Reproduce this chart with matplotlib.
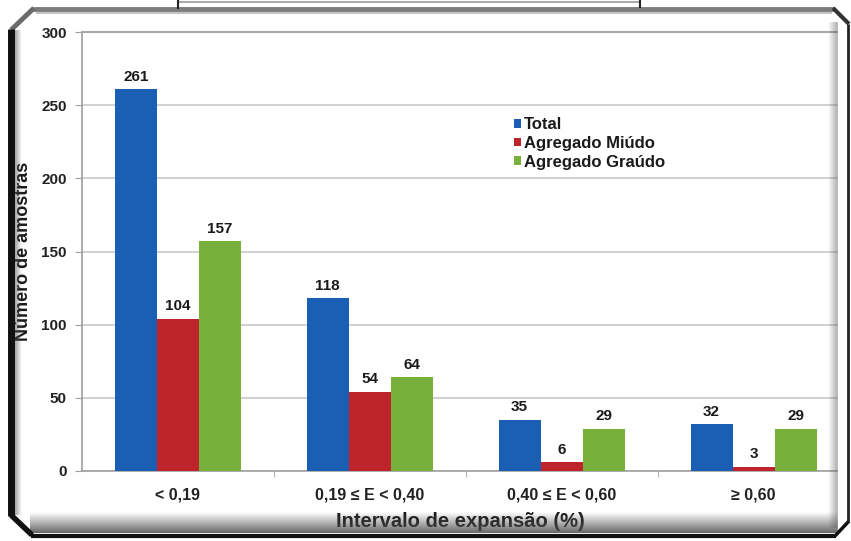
import numpy as np
import matplotlib
matplotlib.use("Agg")
import matplotlib.pyplot as plt
from matplotlib.lines import Line2D

plt.rcParams['font.family'] = ['Liberation Sans', 'DejaVu Sans']

categories = ["< 0,19", "0,19 ≤ E < 0,40", "0,40 ≤ E < 0,60", "≥ 0,60"]
series_names = ["Total", "Agregado Miúdo", "Agregado Graúdo"]
total = [261, 118, 35, 32]
miudo = [104, 54, 6, 3]
graudo = [157, 64, 29, 29]
colors = ["#1a5fb4", "#c0242b", "#78b03c"]
y_ticks = [0, 50, 100, 150, 200, 250, 300]

W, H = 851, 541
fig = plt.figure(figsize=(W / 100, H / 100), dpi=100)
fig.patch.set_facecolor("white")

# main axes in pixel layout
L, R, T, B = 82, 838, 32, 471
ax = fig.add_axes([L / W, 1 - B / H, (R - L) / W, (B - T) / H])
ax.set_facecolor("white")

x = np.arange(len(categories))
bw = 0.219
for i, (vals, name, c) in enumerate(zip([total, miudo, graudo], series_names, colors)):
    bars = ax.bar(x + (i - 1) * bw, vals, width=bw, color=c, label=name, zorder=3)
    ax.bar_label(bars, labels=[str(v) for v in vals], padding=4,
                 fontsize=11, fontweight='bold', color="#1a1a1a")

ax.set_xlim(-0.5, 3.44)
ax.set_ylim(0, 300)
ax.set_yticks(y_ticks)
ax.yaxis.grid(True, color="#c8c8c8", linewidth=1.2, zorder=0)
ax.set_axisbelow(True)
ax.spines["right"].set_visible(False)
ax.spines["top"].set_color("#a8a8a8")
ax.spines["top"].set_linewidth(1.5)
ax.spines["left"].set_color("#a0a0a0")
ax.spines["bottom"].set_color("#a0a0a0")
ax.spines["left"].set_linewidth(1.2)
ax.spines["bottom"].set_linewidth(1.2)

ax.set_xticks(x)
ax.set_xticklabels(categories, fontsize=11.5, fontweight='bold', color="#222222")
ax.tick_params(axis='x', length=0, pad=12)
ax.set_xticks([0.5, 1.5, 2.5], minor=True)
ax.tick_params(axis='x', which='minor', length=4, color="#a0a0a0", direction='out')
ax.tick_params(axis='y', length=5, color="#a0a0a0", pad=6, labelsize=11, labelcolor="#222222")
for lbl in ax.get_yticklabels():
    lbl.set_fontweight('bold')

ax.set_xlabel("Intervalo de expansão (%)", fontsize=14.5, fontweight='bold',
              color="#1a1a1a", labelpad=7)
ax.set_ylabel("Número de amostras", fontsize=13, fontweight='bold',
              color="#1a1a1a", labelpad=7)

leg = ax.legend(loc='upper left', bbox_to_anchor=((506 - L) / (R - L), 1 - (109 - T) / (B - T)),
                frameon=False, fontsize=12, handlelength=0.4, handleheight=0.4,
                handletextpad=0.2, labelspacing=0.22, borderpad=0)
for t in leg.get_texts():
    t.set_fontweight('bold')
    t.set_color("#1a1a1a")

# overlay for the bevelled frame
ov = fig.add_axes([0, 0, 1, 1], zorder=10)
ov.patch.set_alpha(0)
ov.axis('off')

def ramp(x0, x1, y0, y1, horizontal, rgb, a0, a1):
    n = 64
    a = np.linspace(a0, a1, n)
    if horizontal:
        arr = np.zeros((1, n, 4))
        arr[0, :, :3] = rgb
        arr[0, :, 3] = a
    else:
        arr = np.zeros((n, 1, 4))
        arr[:, 0, :3] = rgb
        arr[:, 0, 3] = a
    ov.imshow(arr, extent=[x0, x1, y1, y0], aspect='auto', interpolation='bilinear')

# cover right part beyond axes
ov.add_patch(plt.Rectangle((838, 20), 13, 520, color="white", zorder=1))
# shadows
ramp(828, 846, 22, 528, True, (0.35, 0.35, 0.35), 0.0, 0.9)
ramp(30, 842, 512, 533, False, (0.3, 0.3, 0.3), 0.0, 0.85)
ramp(14, 22, 30, 515, True, (0.3, 0.3, 0.3), 0.6, 0.0)

kw = dict(solid_capstyle='butt', zorder=5)
ov.add_line(Line2D([33, 834], [9, 9], color="#7c7c7c", lw=3.5, **kw))
ov.add_line(Line2D([36, 832], [12.5, 12.5], color="#b8b8b8", lw=1.2, **kw))
ov.add_line(Line2D([34, 11], [8, 30], color="#6a6a6a", lw=3.5, **kw))
ov.add_line(Line2D([11, 11], [29, 516], color="#111111", lw=5, **kw))
ov.add_line(Line2D([11, 32], [515, 535], color="#111111", lw=4, **kw))
ov.add_line(Line2D([31, 836], [535.5, 535.5], color="#111111", lw=3, **kw))
ov.add_line(Line2D([835, 849], [536, 521], color="#111111", lw=2.5, **kw))
ov.add_line(Line2D([848, 848], [24, 522], color="#222222", lw=2, **kw))
ov.add_line(Line2D([833, 849], [8, 24], color="#333333", lw=3, **kw))
# remnants of element above
ov.add_line(Line2D([178, 640], [2, 2], color="#aaaaaa", lw=1.5, **kw))
ov.add_line(Line2D([178, 178], [0, 9], color="#222222", lw=1.5, **kw))
ov.add_line(Line2D([640, 640], [0, 8], color="#222222", lw=1.5, **kw))

ov.set_xlim(0, W)
ov.set_ylim(H, 0)

fig.savefig("out.png", dpi=100)
